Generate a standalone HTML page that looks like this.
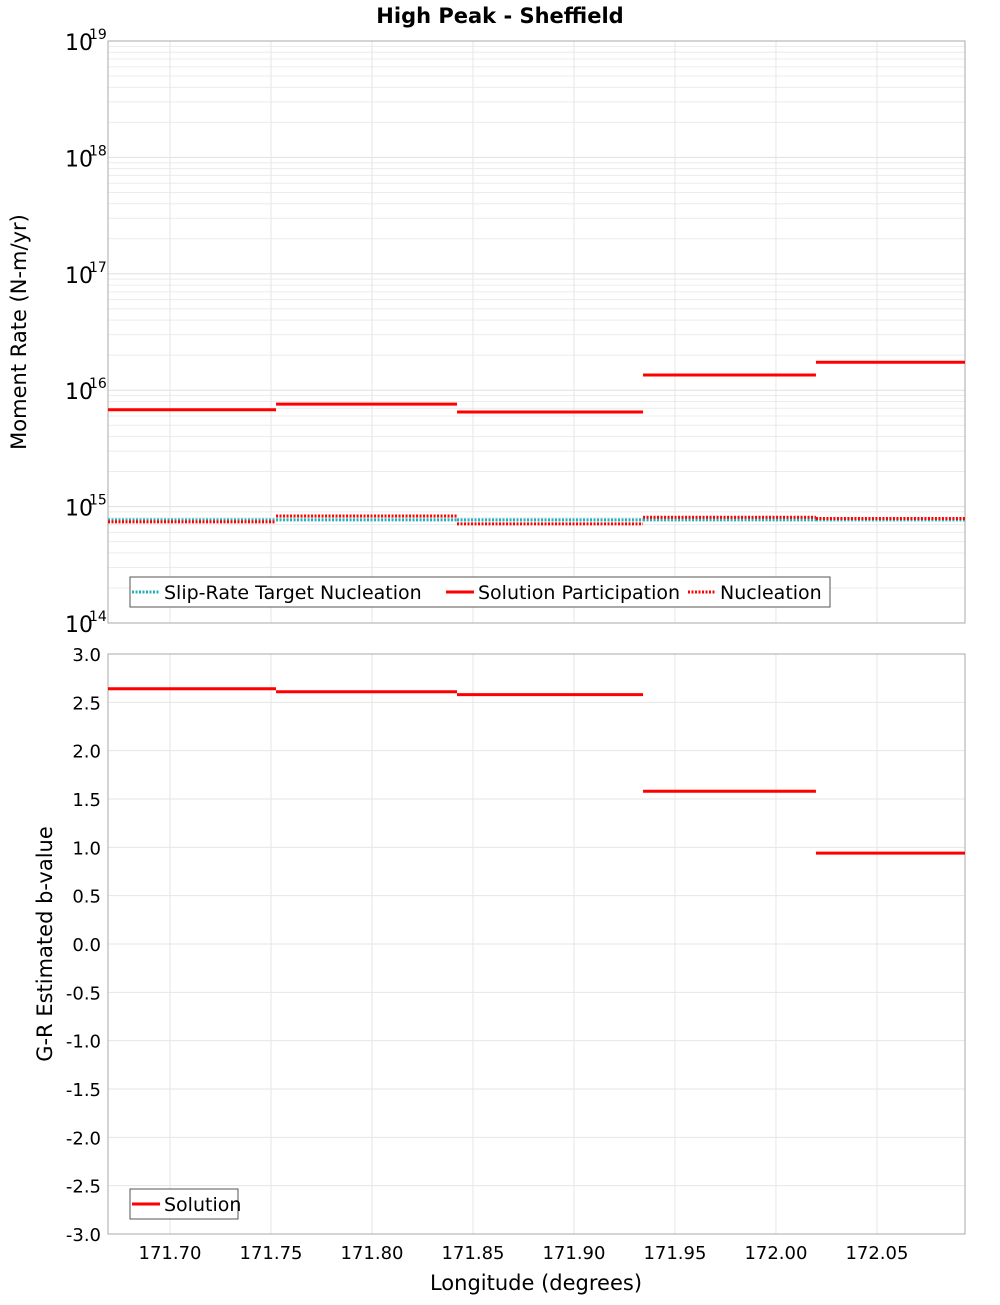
<!DOCTYPE html>
<html><head><meta charset="utf-8"><style>
body{margin:0;background:#fff;font-family:"Liberation Sans","DejaVu Sans",sans-serif}
svg text{font-family:"DejaVu Sans","Liberation Sans",sans-serif}
</style></head><body>
<svg id="chart" width="1000" height="1300" xmlns="http://www.w3.org/2000/svg">
<text x="500" y="23" text-anchor="middle" font-size="21" font-weight="bold">High Peak - Sheffield</text>
<g id="topPanel"></g>
<g id="botPanel"></g>
<text transform="translate(26,332) rotate(-90)" text-anchor="middle" font-size="21">Moment Rate (N-m/yr)</text>
<text transform="translate(52,944) rotate(-90)" text-anchor="middle" font-size="21">G-R Estimated b-value</text>
<text x="536" y="1290" text-anchor="middle" font-size="21">Longitude (degrees)</text>
</svg>
<script>
const binEdges=[171.6693,171.7525,171.8421,171.9342,172.0198,172.0936];
const participation=[6.8e15,7.6e15,6.5e15,1.35e16,1.74e16];
const nucleation=[7.4e14,8.3e14,7.1e14,8.1e14,7.9e14];
const targetNucleation=[7.7e14,7.7e14,7.7e14,7.7e14,7.7e14];
const bValues=[2.64,2.61,2.58,1.58,0.94];
const xTicks=[171.70,171.75,171.80,171.85,171.90,171.95,172.00,172.05];
const bTicks=[3.0,2.5,2.0,1.5,1.0,0.5,0.0,-0.5,-1.0,-1.5,-2.0,-2.5,-3.0];
const decades=[14,15,16,17,18,19];

const NS="http://www.w3.org/2000/svg";
const L=108,R=965,T1=41,B1=623,T2=654,B2=1234;
const xMin=binEdges[0],xMax=binEdges[binEdges.length-1];
const sx=v=>L+(v-xMin)/(xMax-xMin)*(R-L);
const sy1=v=>B1-(Math.log10(v)-14)/5*(B1-T1);
const sy2=v=>B2-(v+3)/6*(B2-T2);
function mk(parent,tag,attrs,text){const e=document.createElementNS(NS,tag);for(const k in attrs)e.setAttribute(k,attrs[k]);if(text!==undefined)e.textContent=text;parent.appendChild(e);return e;}
const topG=document.getElementById('topPanel'),botG=document.getElementById('botPanel');

for(let d=14;d<19;d++)for(let m=1;m<10;m++){const y=sy1(m*Math.pow(10,d));
 const g=mk(topG,'line',{x1:L,x2:R,y1:y,y2:y,stroke:m===1?'#e0e0e0':'#ececec','stroke-width':1});
 
 }
xTicks.forEach(v=>{for(const [p,a,b] of [[topG,T1,B1],[botG,T2,B2]]){
 const g=mk(p,'line',{x1:sx(v),x2:sx(v),y1:a,y2:b,stroke:'#e6e6e6','stroke-width':1});
 
 }});
bTicks.forEach(v=>{const g=mk(botG,'line',{x1:L,x2:R,y1:sy2(v),y2:sy2(v),stroke:'#e6e6e6','stroke-width':1});
 
 });

const f1=mk(topG,'rect',{x:L,y:T1,width:R-L,height:B1-T1,fill:'none',stroke:'#aaa'});


const f2=mk(botG,'rect',{x:L,y:T2,width:R-L,height:B2-T2,fill:'none',stroke:'#aaa'});



decades.forEach(d=>{const y=sy1(Math.pow(10,d));
 const t=mk(topG,'text',{x:65,y:y+9,'font-size':22},'10');
 
 
 const s=mk(topG,'text',{x:89,y:y-2,'font-size':14},String(d));
 
 });
bTicks.forEach(v=>{const t=mk(botG,'text',{x:101,y:sy2(v)+7,'font-size':18,'text-anchor':'end'},v.toFixed(1));
 
 });
xTicks.forEach(v=>{const t=mk(botG,'text',{x:sx(v),y:1259,'font-size':18,'text-anchor':'middle'},v.toFixed(2));
 
 });

function steps(parent,vals,sy,color,dash,name){vals.forEach((v,i)=>{
 const e=mk(parent,'line',{x1:sx(binEdges[i]),x2:sx(binEdges[i+1]),y1:sy(v),y2:sy(v),stroke:color,'stroke-width':3});
 if(dash)e.setAttribute('stroke-dasharray',dash);
 
 });}
steps(topG,targetNucleation,sy1,'#22b0b8','2,1.5','target-nucleation-segment');
steps(topG,nucleation,sy1,'#ff0000','2,1.5','nucleation-segment');
steps(topG,participation,sy1,'#ff0000',null,'participation-segment');
steps(botG,bValues,sy2,'#ff0000',null,'b-value-segment');

function legend(parent,x,y,w,items,name){const g=mk(parent,'g',{});
 
 
 mk(g,'rect',{x:x,y:y,width:w,height:30,fill:'#fff',stroke:'#555'});
 items.forEach(it=>{const e=mk(g,'line',{x1:it.x,x2:it.x+28,y1:y+15,y2:y+15,stroke:it.c,'stroke-width':3});
  if(it.d)e.setAttribute('stroke-dasharray',it.d);
  
  
  const t=mk(g,'text',{x:it.x+32,y:y+22,'font-size':19},it.t);
  
  });}
legend(topG,130,577,700,[{x:132,c:'#22b0b8',d:'2,1.5',t:'Slip-Rate Target Nucleation'},{x:446,c:'#ff0000',t:'Solution Participation'},{x:688,c:'#ff0000',d:'2,1.5',t:'Nucleation'}],'legend-top');
legend(botG,130,1189,108,[{x:132,c:'#ff0000',t:'Solution'}],'legend-bottom');
</script>
</body></html>
